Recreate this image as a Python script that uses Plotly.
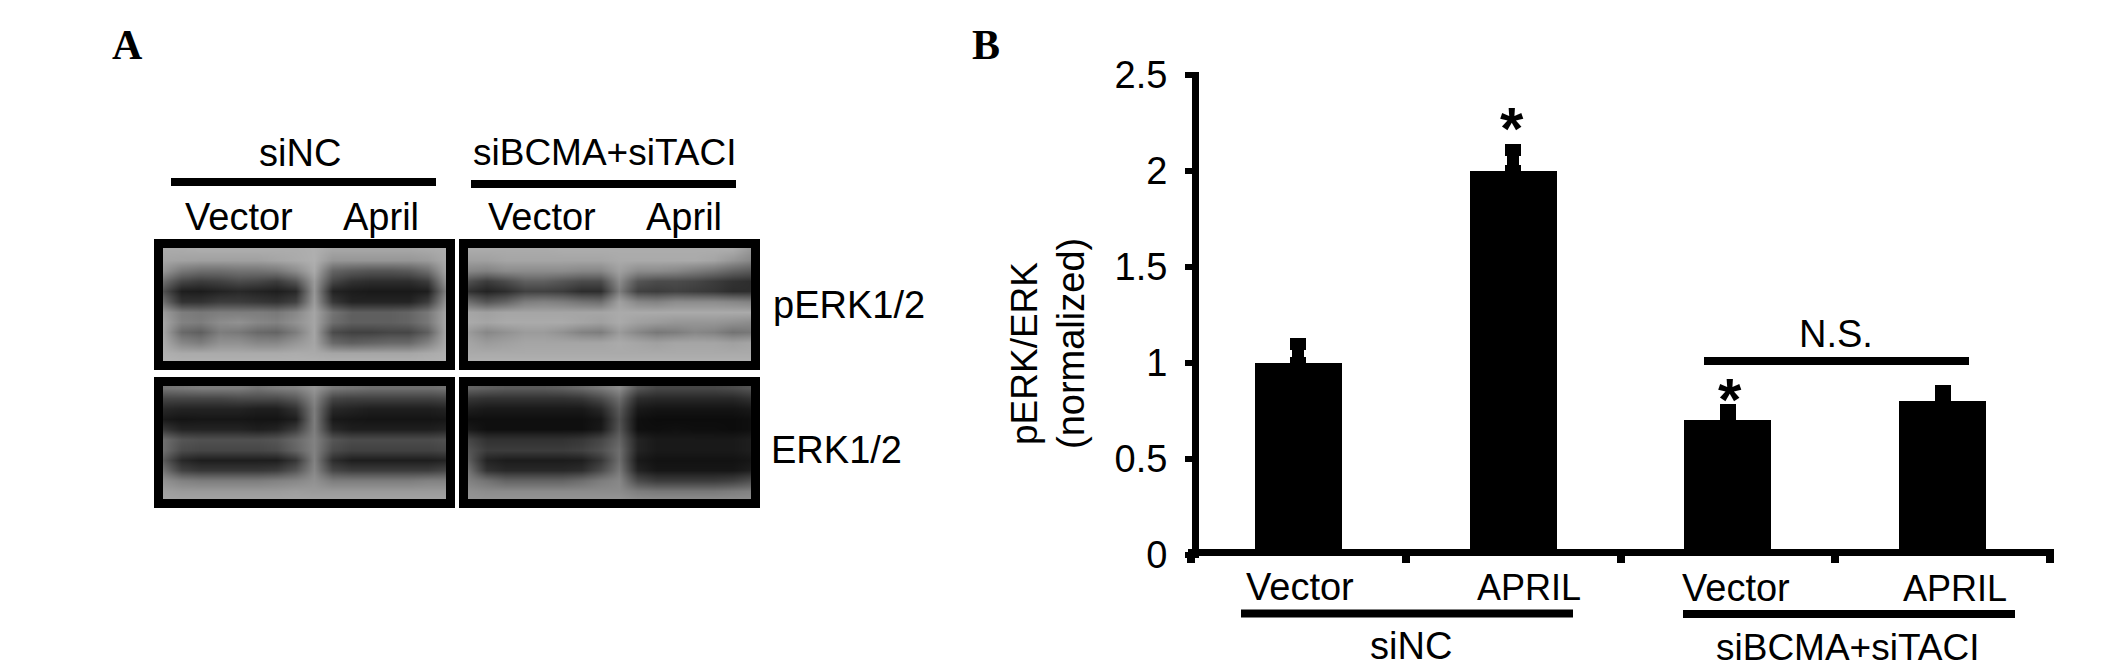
"""
Two panel figure: western blot strips (A) and pERK/ERK bar chart (B).
"""

import plotly.graph_objects as go

W, H = 2126, 672
SANS = "Liberation Sans"
SERIF = "Liberation Serif"

# panel B values
groups = ["siNC Vector", "siNC APRIL", "siBCMA+siTACI Vector", "siBCMA+siTACI APRIL"]
ratio = [1.0, 2.0, 0.7, 0.8]
ratio_err = [0.098, 0.11, 0.055, 0.053]
y_ticks = [0, 0.5, 1, 1.5, 2, 2.5]
y_tick_labels = ["0", "0.5", "1", "1.5", "2", "2.5"]

blot_pkerk_sinc = [
    [170, 170, 172, 172, 172, 172, 172, 172, 175, 165, 165, 165, 165, 165, 168, 172],
    [165, 162, 160, 160, 160, 160, 165, 170, 175, 150, 150, 150, 150, 150, 155, 170],
    [150, 120, 110, 110, 115, 115, 120, 140, 170, 100, 90, 85, 85, 90, 110, 165],
    [110, 70, 60, 65, 75, 70, 60, 85, 155, 70, 50, 45, 45, 45, 60, 150],
    [80, 30, 28, 35, 40, 35, 30, 40, 150, 35, 28, 25, 25, 25, 30, 130],
    [110, 50, 50, 60, 60, 55, 50, 65, 155, 55, 35, 35, 35, 35, 60, 150],
    [155, 125, 120, 125, 125, 125, 120, 135, 165, 115, 95, 95, 95, 100, 120, 165],
    [165, 130, 125, 140, 145, 135, 130, 145, 165, 110, 95, 95, 95, 100, 120, 168],
    [165, 105, 95, 125, 120, 105, 100, 125, 165, 75, 65, 65, 70, 70, 95, 168],
    [170, 135, 125, 145, 145, 135, 135, 150, 165, 105, 95, 100, 105, 105, 130, 170],
    [175, 170, 170, 170, 170, 170, 170, 172, 170, 165, 165, 165, 165, 165, 170, 175],
    [180, 178, 178, 178, 178, 178, 178, 178, 178, 178, 178, 178, 178, 178, 178, 178],
]
blot_perk_si2 = [
    [170, 170, 170, 170, 170, 172, 172, 172, 172, 172, 172, 172, 172, 172, 170, 150],
    [160, 160, 165, 165, 165, 165, 165, 165, 170, 170, 170, 170, 170, 165, 150, 135],
    [135, 130, 140, 140, 140, 140, 135, 135, 160, 140, 140, 135, 125, 115, 100, 90],
    [80, 60, 75, 95, 95, 85, 75, 75, 140, 85, 75, 75, 70, 60, 50, 45],
    [50, 35, 45, 65, 65, 60, 45, 45, 125, 65, 60, 65, 60, 55, 45, 45],
    [110, 85, 100, 125, 130, 125, 115, 110, 160, 135, 130, 140, 140, 140, 135, 130],
    [165, 160, 165, 165, 165, 165, 165, 165, 170, 170, 170, 170, 170, 170, 170, 170],
    [170, 165, 170, 170, 170, 170, 165, 160, 170, 160, 155, 150, 150, 150, 145, 140],
    [155, 135, 145, 155, 155, 145, 130, 125, 155, 135, 120, 125, 135, 130, 115, 120],
    [165, 155, 160, 165, 165, 165, 165, 165, 170, 165, 160, 165, 165, 165, 160, 165],
    [170, 170, 170, 170, 170, 170, 170, 170, 170, 170, 170, 170, 170, 170, 170, 170],
    [178, 178, 178, 178, 178, 178, 178, 178, 178, 178, 178, 178, 178, 178, 178, 178],
]
blot_erk_sinc = [
    [115, 120, 125, 125, 125, 115, 125, 130, 150, 120, 115, 110, 110, 110, 110, 115],
    [70, 70, 70, 70, 75, 75, 75, 90, 135, 70, 65, 65, 65, 65, 65, 70],
    [40, 35, 35, 35, 35, 30, 30, 50, 125, 40, 35, 30, 30, 30, 30, 35],
    [25, 20, 22, 22, 22, 20, 20, 30, 125, 25, 22, 20, 20, 20, 20, 22],
    [55, 35, 35, 35, 35, 30, 35, 60, 125, 40, 30, 30, 30, 30, 30, 35],
    [110, 85, 80, 80, 80, 80, 85, 105, 130, 85, 75, 75, 75, 75, 75, 80],
    [110, 75, 70, 70, 70, 70, 75, 100, 130, 75, 65, 65, 65, 65, 65, 70],
    [90, 40, 30, 30, 30, 30, 30, 55, 130, 45, 30, 30, 30, 30, 30, 35],
    [115, 65, 55, 55, 55, 55, 60, 85, 135, 70, 60, 60, 60, 60, 60, 70],
    [145, 130, 125, 125, 125, 125, 130, 135, 145, 125, 125, 125, 125, 125, 130, 130],
    [160, 155, 155, 155, 155, 155, 155, 158, 155, 155, 155, 155, 155, 155, 155, 155],
    [165, 165, 165, 165, 165, 165, 165, 165, 165, 165, 165, 165, 165, 165, 165, 165],
]
blot_erk_si2 = [
    [100, 95, 90, 90, 90, 95, 105, 120, 140, 85, 70, 70, 70, 70, 75, 85],
    [55, 50, 50, 50, 50, 50, 55, 75, 110, 45, 40, 40, 40, 40, 40, 50],
    [30, 25, 25, 25, 25, 25, 25, 40, 90, 25, 20, 20, 20, 20, 20, 25],
    [15, 15, 15, 15, 15, 15, 15, 22, 80, 15, 12, 12, 12, 12, 12, 15],
    [25, 15, 15, 15, 15, 15, 15, 25, 85, 15, 14, 16, 14, 14, 12, 15],
    [70, 50, 50, 50, 50, 50, 55, 70, 100, 35, 25, 25, 25, 25, 25, 30],
    [85, 60, 60, 60, 60, 60, 65, 80, 110, 35, 25, 25, 25, 25, 25, 30],
    [95, 35, 28, 28, 28, 28, 30, 55, 110, 25, 18, 18, 18, 18, 18, 22],
    [115, 50, 40, 40, 40, 40, 45, 75, 120, 35, 22, 22, 22, 22, 22, 30],
    [130, 115, 100, 100, 100, 100, 110, 125, 135, 75, 60, 60, 60, 60, 65, 80],
    [145, 140, 140, 140, 140, 140, 140, 140, 140, 125, 120, 120, 120, 120, 125, 130],
    [150, 150, 150, 150, 150, 150, 150, 150, 150, 145, 145, 145, 145, 145, 145, 145],
]


def px_x(x):
    return x / W


def px_y(y):
    return 1 - y / H


fig = go.Figure()

# panel B: bars on a pixel calibrated axis
fig.add_trace(go.Bar(
    x=list(range(len(groups))), y=ratio, width=0.405, hovertext=groups,
    marker=dict(color="black", line=dict(width=0)),
    error_y=dict(type="data", array=ratio_err, symmetric=False, arrayminus=[0] * 4,
                 color="black", thickness=12, width=8),
))

# panel A: one small heatmap per blot
blots = [
    (blot_pkerk_sinc, 163, 446, 248, 361),
    (blot_perk_si2, 468, 751, 248, 361),
    (blot_erk_sinc, 163, 446, 386, 499),
    (blot_erk_si2, 468, 751, 386, 499),
]
axis_extra = {}
shapes = []
for i, (grid, x0, x1, y0, y1) in enumerate(blots, start=2):
    fig.add_trace(go.Heatmap(
        z=grid, xaxis=f"x{i}", yaxis=f"y{i}", zmin=0, zmax=255, zsmooth="best",
        colorscale=[[0, "black"], [1, "white"]], showscale=False,
    ))
    axis_extra[f"xaxis{i}"] = dict(domain=[px_x(x0), px_x(x1)], visible=False,
                                   anchor=f"y{i}", range=[0, 15], fixedrange=True)
    axis_extra[f"yaxis{i}"] = dict(domain=[px_y(y1), px_y(y0)], visible=False,
                                   anchor=f"x{i}", range=[10.8, -0.2], fixedrange=True)
    shapes.append(dict(type="rect", xref="paper", yref="paper",
                       x0=px_x(x0 - 4.5), x1=px_x(x1 + 4.5),
                       y0=px_y(y0 - 4.5), y1=px_y(y1 + 4.5),
                       line=dict(color="black", width=9), fillcolor="rgba(0,0,0,0)"))

# solid rules above and below labels: x0, x1, y, thickness
rules = [
    (171, 436, 182, 8), (471, 736, 184, 8),
    (1704, 1969, 361, 8), (1241, 1573, 613.5, 8), (1683, 2015, 614, 8),
]
for x0, x1, y, lw in rules:
    shapes.append(dict(type="line", xref="paper", yref="paper",
                       x0=px_x(x0), x1=px_x(x1), y0=px_y(y), y1=px_y(y),
                       line=dict(color="black", width=lw)))

# text, x, y, size, family, angle
labels = [
    ("<b>A</b>", 127, 45, 42, SERIF, 0),
    ("<b>B</b>", 986, 45, 42, SERIF, 0),
    ("siNC", 300, 153, 38, SANS, 0),
    ("siBCMA+siTACI", 604, 153, 37, SANS, 0),
    ("Vector", 239, 217, 38, SANS, 0),
    ("April", 381, 217, 38, SANS, 0),
    ("Vector", 542, 217, 38, SANS, 0),
    ("April", 684, 217, 38, SANS, 0),
    ("pERK1/2", 849, 305, 38, SANS, 0),
    ("ERK1/2", 836, 450, 38, SANS, 0),
    ("pERK/ERK", 1024, 354, 37, SANS, -90),
    ("(normalized)", 1071, 344, 38, SANS, -90),
    ("Vector", 1300, 587, 38, SANS, 0),
    ("APRIL", 1529, 587, 36, SANS, 0),
    ("Vector", 1736, 588, 38, SANS, 0),
    ("APRIL", 1955, 588, 36, SANS, 0),
    ("siNC", 1411, 646, 38, SANS, 0),
    ("siBCMA+siTACI", 1847, 647, 37, SANS, 0),
    ("N.S.", 1836, 334, 38, SANS, 0),
    ("<b>*</b>", 1512, 128, 60, SANS, 0),
    ("<b>*</b>", 1730, 399, 60, SANS, 0),
]
annotations = [
    dict(text=t, x=px_x(x), y=px_y(y), xref="paper", yref="paper", showarrow=False,
         xanchor="center", yanchor="middle", textangle=a, borderpad=0,
         font=dict(family=f, size=s, color="black"))
    for t, x, y, s, f, a in labels
]

fig.update_layout(
    width=W, height=H, showlegend=False, bargap=0,
    margin=dict(l=0, r=0, t=0, b=0, autoexpand=False),
    paper_bgcolor="white", plot_bgcolor="white",
    font=dict(family=SANS, color="black"),
    xaxis=dict(
        domain=[px_x(1188), px_x(2054)], anchor="free", position=px_y(552),
        range=[-0.5 - 3 / 214.75, 3.5 + 4 / 214.75],
        tickmode="array", tickvals=[-0.5, 0.5, 1.5, 2.5, 3.5], ticktext=[""] * 5,
        ticks="outside", ticklen=7, tickwidth=8, tickcolor="black",
        showline=True, linewidth=7, linecolor="black",
        showgrid=False, zeroline=False, fixedrange=True,
    ),
    yaxis=dict(
        # y=0 sits at 555px, inside the x axis line that spans 552-559px
        domain=[px_y(558), px_y(72)], anchor="free", position=px_x(1195),
        range=[-3 / 192.16, 2.5 + 2.6 / 192.16],
        tickmode="array", tickvals=y_ticks, ticktext=y_tick_labels,
        ticks="outside", ticklen=7, tickwidth=6, tickcolor="black", ticklabelstandoff=10,
        tickfont=dict(family=SANS, size=38, color="black"),
        showline=True, linewidth=7, linecolor="black",
        showgrid=False, zeroline=False, fixedrange=True,
    ),
    shapes=shapes,
    annotations=annotations,
    **axis_extra,
)

# the page's default body margin would push the figure 8px down and right
fig.write_html("out.html", config=dict(displayModeBar=False),
               post_script="document.body.style.margin='0';")
